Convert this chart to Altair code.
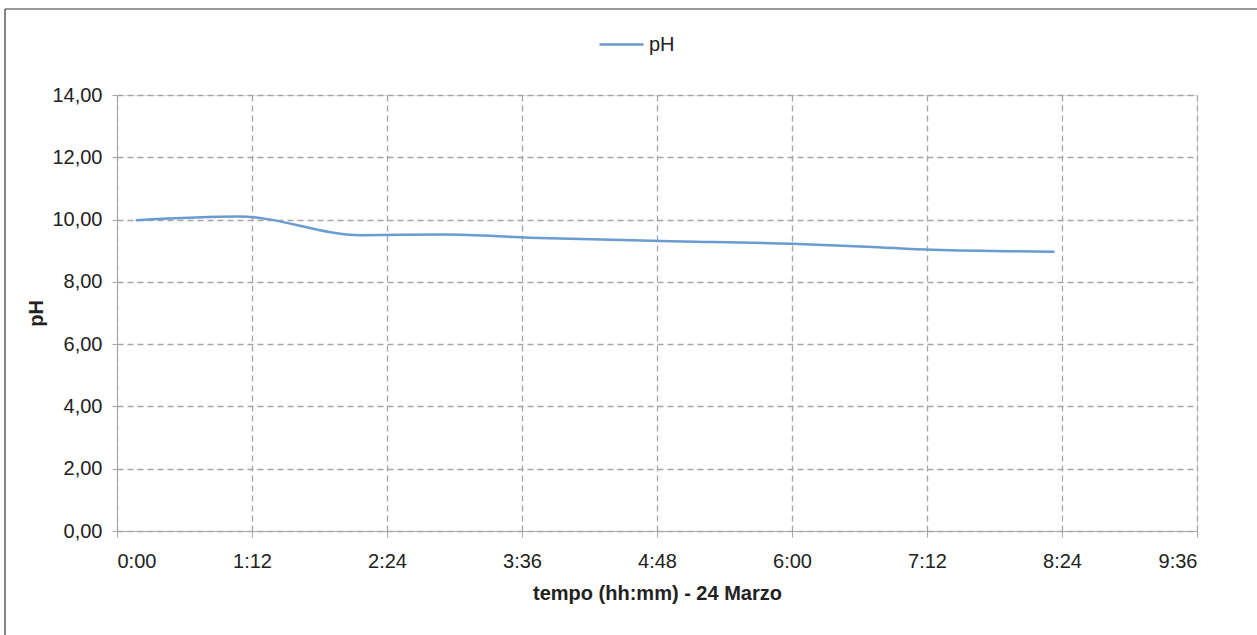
import altair as alt
import pandas as pd

times = ["0:10", "1:05", "2:10", "2:55", "3:40", "4:50", "6:00", "6:40", "7:15", "8:20"]
ph = [9.98, 10.10, 9.50, 9.52, 9.42, 9.31, 9.22, 9.13, 9.03, 8.97]

x_ticks = [0, 72, 144, 216, 288, 360, 432, 504, 576]
y_ticks = [0, 2, 4, 6, 8, 10, 12, 14]

def to_min(t):
    h, m = t.split(":")
    return int(h) * 60 + int(m)

df = pd.DataFrame({"t": [to_min(t) for t in times], "pH": ph, "serie": ["pH"] * len(ph)})

FONT = "Liberation Sans"
FS = 20
W, H = 1080, 436
LEFT, TOP = 117, 95

line = alt.Chart(df).mark_line(interpolate="monotone", strokeWidth=2.5).encode(
    x=alt.X("t:Q", scale=alt.Scale(domain=[0, 576], nice=False),
            axis=alt.Axis(values=x_ticks, title="tempo (hh:mm) - 24 Marzo",
                          labelExpr="floor(datum.value/60) + ':' + (datum.value%60 < 10 ? '0' : '') + (datum.value%60)",
                          grid=True, gridDash=[6, 4], gridColor="#a6a6a6", gridWidth=1.3,
                          domainColor="#a6a6a6", tickColor="#a6a6a6", tickSize=6,
                          labelFont=FONT, labelFontSize=FS, labelColor="#222222", labelPadding=14,
                          titleFont=FONT, titleFontSize=FS, titleFontWeight="bold", titleColor="#222222",
                          titlePadding=12)),
    y=alt.Y("pH:Q", scale=alt.Scale(domain=[0, 14], nice=False),
            axis=alt.Axis(values=y_ticks, title="pH",
                          labelExpr="replace(format(datum.value, '.2f'), '.', ',')",
                          grid=True, gridDash=[6, 4], gridColor="#a6a6a6", gridWidth=1.3,
                          domainColor="#a6a6a6", tickColor="#a6a6a6", tickSize=5,
                          labelFont=FONT, labelFontSize=FS, labelColor="#222222", labelPadding=10,
                          titleFont=FONT, titleFontSize=FS, titleFontWeight="bold", titleColor="#222222",
                          titlePadding=5)),
    color=alt.Color("serie:N", scale=alt.Scale(domain=["pH"], range=["#6a9bd1"]),
                    legend=alt.Legend(title=None, orient="none", legendX=481, legendY=-74,
                                      symbolType="stroke", symbolSize=1936, symbolStrokeWidth=2.5,
                                      labelFont=FONT, labelFontSize=FS, labelColor="#222222",
                                      labelOffset=4)),
)

one = pd.DataFrame({"a": [0]})
border_top = alt.Chart(one).mark_rule(color="#333333", strokeWidth=1.2).encode(
    x=alt.value(5 - LEFT), x2=alt.value(1257 - LEFT), y=alt.value(9 - TOP))
border_left = alt.Chart(one).mark_rule(color="#333333", strokeWidth=1.2).encode(
    x=alt.value(5 - LEFT), y=alt.value(9 - TOP), y2=alt.value(635 - TOP))

chart = alt.layer(line, border_top, border_left).properties(
    width=W, height=H,
    autosize=alt.AutoSizeParams(type="none"),
    padding={"left": LEFT, "top": TOP, "right": 1257 - LEFT - W, "bottom": 635 - TOP - H},
).configure_view(stroke=None).configure(background="white")

chart.save("out.html", embed_options={"renderer": "svg", "actions": False})
